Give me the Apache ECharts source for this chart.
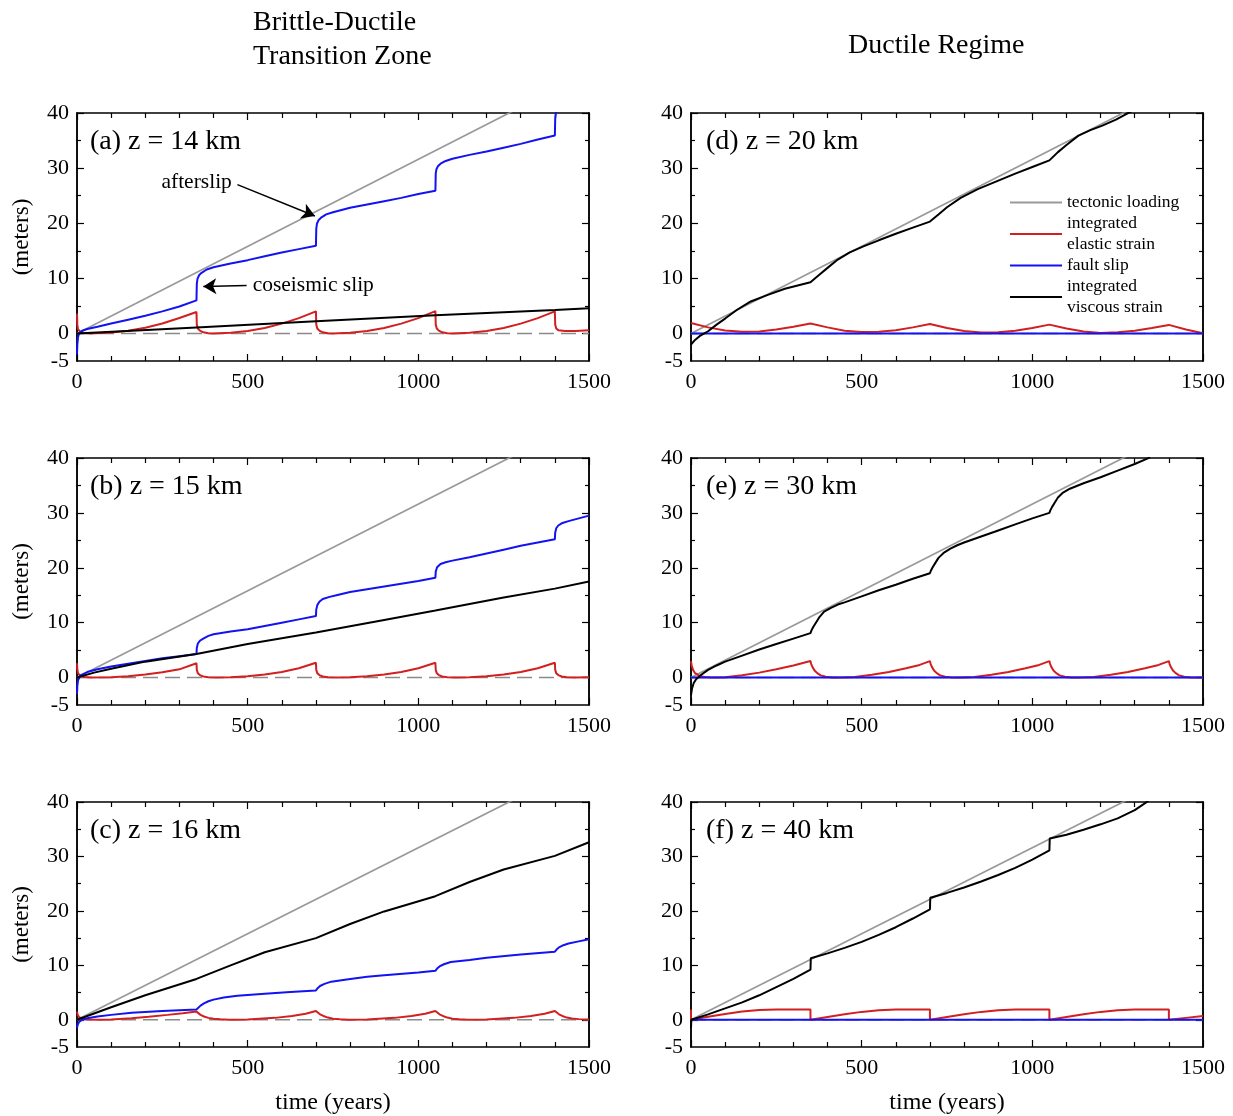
<!DOCTYPE html>
<html>
<head>
<meta charset="utf-8">
<script src="https://cdn.jsdelivr.net/npm/echarts@6/dist/echarts.min.js"></script>
<style>html,body{margin:0;padding:0;background:#fff}#c{width:1233px;height:1116px}</style>
</head>
<body>
<div id="c"></div>
<script>
// ---------- data (time in years, values in meters) ----------
const xTickLabels = [0, 500, 1000, 1500];
const yTickLabels = [-5, 0, 10, 20, 30, 40];
const panelLabels = ['(a) z = 14 km', '(b) z = 15 km', '(c) z = 16 km', '(d) z = 20 km', '(e) z = 30 km', '(f) z = 40 km'];
const columnTitles = ['Brittle-Ductile\nTransition Zone', 'Ductile Regime'];
const seriesNames = ['tectonic loading', 'integrated\nelastic strain', 'fault slip', 'integrated\nviscous strain'];

const loading = [[0, 0], [1500, 47.4]];
const zeroLine = [[0, 0], [1500, 0]];

// (a) z = 14 km
const a_elastic = [[0,3.6],[1,1.5],[3,0.8],[8,0.4],[20,0.1],[40,0],[100,0.15],[150,0.5],[200,1.05],[250,1.8],[300,2.8],[350,3.9],[351,1.6],[354,0.9],[360,0.5],[370,0.2],[385,0.05],[400,0],[450,0.11],[500,0.44],[550,1.0],[600,1.78],[650,2.78],[700,4.0],[701,1.6],[704,0.9],[710,0.5],[720,0.2],[735,0.05],[750,0],[800,0.11],[850,0.44],[900,1.0],[950,1.78],[1000,2.78],[1050,4.05],[1051,1.6],[1054,0.9],[1060,0.5],[1070,0.2],[1085,0.05],[1100,0],[1150,0.11],[1200,0.44],[1250,1.0],[1300,1.78],[1350,2.78],[1400,4.0],[1401,1.6],[1404,0.9],[1410,0.6],[1430,0.45],[1460,0.45],[1500,0.6]];
const a_fault = [[0,-3.8],[1,-2],[3,-0.7],[6,0],[15,0.5],[30,0.8],[60,1.2],[100,1.8],[150,2.5],[200,3.2],[250,4.0],[300,4.9],[350,6.0],[351,9.0],[353,9.9],[358,10.6],[365,11.0],[380,11.6],[400,12.0],[450,12.7],[500,13.3],[550,14.0],[600,14.7],[650,15.3],[700,15.9],[701,19.0],[703,19.9],[708,20.6],[715,21.0],[730,21.6],[750,22.0],[800,22.8],[850,23.4],[900,24.0],[950,24.6],[1000,25.3],[1050,25.9],[1051,29.0],[1053,29.8],[1058,30.4],[1065,30.8],[1080,31.3],[1100,31.7],[1150,32.4],[1200,33.0],[1250,33.7],[1300,34.4],[1350,35.2],[1400,35.9],[1401,39.0],[1403,40.0],[1408,40.8],[1420,41.5]];
const a_viscous = [[0,0],[350,1.1],[700,2.2],[1050,3.3],[1400,4.25],[1500,4.55]];

// (b) z = 15 km
const b_elastic = [[0,2.6],[1,1.5],[3,0.8],[8,0.4],[20,0.1],[40,0],[100,0.05],[150,0.25],[200,0.55],[250,0.95],[300,1.5],[350,2.6],[351,1.4],[354,0.8],[360,0.45],[370,0.2],[385,0.07],[410,0],[450,0.05],[500,0.25],[550,0.55],[600,1.0],[650,1.7],[700,2.7],[701,1.4],[704,0.8],[710,0.45],[720,0.2],[735,0.07],[760,0],[800,0.05],[850,0.25],[900,0.55],[950,1.0],[1000,1.7],[1050,2.7],[1051,1.4],[1054,0.8],[1060,0.45],[1070,0.2],[1085,0.07],[1110,0],[1150,0.05],[1200,0.25],[1250,0.55],[1300,1.0],[1350,1.7],[1400,2.7],[1401,1.4],[1404,0.8],[1410,0.45],[1420,0.2],[1435,0.07],[1460,0.02],[1500,0.05]];
const b_fault = [[0,-3],[1,-1.5],[3,-0.5],[10,0.4],[30,1.0],[60,1.5],[100,2.0],[150,2.5],[200,3.0],[250,3.5],[300,3.9],[350,4.3],[351,5.4],[354,6.2],[360,6.7],[370,7.1],[385,7.6],[400,7.9],[450,8.4],[500,8.8],[550,9.4],[600,10.0],[650,10.6],[700,11.2],[701,12.4],[704,13.2],[710,13.8],[720,14.3],[740,14.7],[760,15.0],[800,15.6],[850,16.1],[900,16.6],[950,17.1],[1000,17.6],[1050,18.2],[1051,19.3],[1055,20.1],[1065,20.7],[1080,21.0],[1100,21.3],[1150,21.9],[1200,22.6],[1250,23.3],[1300,24.0],[1350,24.6],[1400,25.2],[1401,26.4],[1404,27.2],[1410,27.7],[1420,28.1],[1440,28.5],[1470,29.0],[1500,29.5]];
const b_viscous = [[0,0],[50,0.9],[100,1.6],[200,2.9],[350,4.3],[500,6.1],[700,8.2],[900,10.5],[1050,12.2],[1250,14.6],[1400,16.2],[1500,17.5]];

// (c) z = 16 km
const c_elastic = [[0,1.5],[2,0.9],[6,0.5],[15,0.2],[30,0.05],[60,0],[100,0.05],[160,0.3],[210,0.55],[265,0.9],[310,1.2],[350,1.5],[355,1.2],[362,0.9],[372,0.6],[385,0.35],[400,0.2],[420,0.08],[445,0],[500,0.05],[580,0.35],[630,0.7],[670,1.1],[700,1.6],[705,1.3],[712,1.0],[722,0.7],[735,0.4],[750,0.2],[770,0.08],[795,0],[850,0.05],[930,0.35],[980,0.7],[1020,1.1],[1050,1.6],[1055,1.3],[1062,1.0],[1072,0.7],[1085,0.4],[1100,0.2],[1120,0.08],[1145,0],[1200,0.05],[1280,0.35],[1330,0.7],[1370,1.1],[1400,1.6],[1405,1.3],[1412,1.0],[1422,0.7],[1435,0.4],[1450,0.25],[1470,0.12],[1500,0.05]];
const c_fault = [[0,-1.5],[2,-0.9],[6,-0.4],[15,0],[30,0.3],[60,0.6],[100,0.9],[160,1.3],[250,1.6],[350,1.9],[355,2.2],[362,2.6],[372,3.0],[385,3.4],[400,3.7],[430,4.1],[470,4.4],[550,4.8],[625,5.1],[700,5.4],[705,5.8],[712,6.2],[725,6.6],[745,7.0],[790,7.4],[850,7.9],[900,8.2],[1000,8.7],[1050,9.0],[1055,9.4],[1062,9.8],[1075,10.2],[1095,10.6],[1150,11.0],[1200,11.4],[1300,12.0],[1400,12.5],[1405,12.9],[1412,13.3],[1425,13.7],[1440,14.0],[1470,14.4],[1500,14.8]];
const c_viscous = [[0,0],[100,2.3],[200,4.5],[350,7.5],[450,10.0],[550,12.4],[700,15.0],[800,17.6],[900,19.9],[1050,22.7],[1150,25.3],[1250,27.6],[1400,30.1],[1500,32.6]];

// (d) z = 20 km
const d_elastic = [[0,1.9],[50,1.1],[100,0.55],[150,0.3],[200,0.35],[250,0.7],[300,1.2],[350,1.8],[400,1.1],[450,0.5],[500,0.25],[550,0.3],[600,0.6],[650,1.1],[700,1.7],[750,1.0],[800,0.45],[850,0.15],[900,0.2],[950,0.5],[1000,1.0],[1050,1.6],[1100,0.9],[1150,0.35],[1200,0.1],[1250,0.2],[1300,0.5],[1350,1.0],[1400,1.55],[1450,0.7],[1500,0.05]];
const d_fault = [[0,0],[1500,0]];
const d_viscous = [[0,-2.0],[10,-1.3],[25,-0.5],[50,0.4],[75,1.6],[100,2.7],[135,4.3],[175,5.8],[225,7.0],[275,8.1],[350,9.3],[375,10.6],[400,11.9],[430,13.4],[465,14.7],[505,15.8],[550,16.9],[600,18.1],[650,19.2],[700,20.3],[725,21.6],[750,22.9],[790,24.6],[840,26.2],[895,27.6],[950,29.0],[1000,30.2],[1050,31.4],[1075,32.9],[1100,34.2],[1135,35.9],[1170,36.9],[1205,37.7],[1245,38.8],[1290,40.3]];

// (e) z = 30 km
const e_elastic = [[0,3.0],[2,2.2],[6,1.4],[12,0.8],[25,0.3],[40,0.1],[60,0],[100,0.05],[150,0.4],[200,0.9],[250,1.5],[300,2.2],[350,3.0],[352,2.5],[356,1.9],[362,1.3],[370,0.8],[380,0.4],[395,0.15],[415,0.03],[440,0],[480,0.1],[530,0.5],[580,1.0],[630,1.7],[670,2.3],[700,3.0],[702,2.5],[706,1.9],[712,1.3],[720,0.8],[730,0.4],[745,0.15],[765,0.03],[790,0],[830,0.1],[880,0.5],[930,1.0],[980,1.7],[1020,2.3],[1050,3.0],[1052,2.5],[1056,1.9],[1062,1.3],[1070,0.8],[1080,0.4],[1095,0.15],[1115,0.03],[1140,0],[1180,0.1],[1230,0.5],[1280,1.0],[1330,1.7],[1370,2.3],[1400,3.0],[1402,2.5],[1406,1.9],[1412,1.3],[1420,0.8],[1430,0.4],[1445,0.15],[1465,0.03],[1500,0]];
const e_fault = [[0,0],[1500,0]];
const e_viscous = [[0,-3.2],[3,-2.0],[8,-1.0],[15,-0.3],[30,0.5],[50,1.4],[75,2.2],[100,2.9],[150,4.0],[200,5.1],[250,6.1],[300,7.1],[350,8.1],[353,8.6],[358,9.2],[365,9.9],[375,10.9],[390,12.0],[410,12.7],[430,13.3],[450,13.7],[500,14.8],[550,15.9],[600,16.9],[650,18.0],[700,19.0],[703,19.5],[708,20.1],[715,20.8],[725,21.8],[740,22.7],[760,23.5],[780,24.1],[800,24.6],[850,25.7],[900,26.8],[950,27.9],[1000,29.0],[1050,30.0],[1053,30.5],[1058,31.1],[1065,31.8],[1075,32.8],[1090,33.7],[1110,34.4],[1130,34.9],[1150,35.4],[1200,36.5],[1250,37.7],[1300,38.9],[1345,40.1]];

// (f) z = 40 km
const f_elastic = [[0,1.9],[0,0],[50,0.55],[100,1.05],[150,1.5],[200,1.8],[250,1.9],[350,1.9],[350,0],[400,0.5],[450,1.0],[500,1.45],[550,1.75],[600,1.88],[700,1.9],[700,0],[750,0.5],[800,1.0],[850,1.45],[900,1.75],[950,1.88],[1050,1.9],[1050,0],[1100,0.5],[1150,1.0],[1200,1.45],[1250,1.75],[1300,1.88],[1400,1.9],[1400,0],[1450,0.35],[1500,0.7]];
const f_fault = [[0,0],[1500,0]];
const f_viscous = [[0,-1.5],[1,0],[50,1.0],[100,2.1],[150,3.2],[200,4.5],[250,6.0],[300,7.5],[350,9.2],[351,11.3],[400,12.2],[450,13.2],[500,14.3],[550,15.6],[600,17.0],[650,18.6],[700,20.3],[701,22.4],[750,23.3],[800,24.3],[850,25.4],[900,26.6],[950,27.9],[1000,29.4],[1050,31.1],[1051,33.3],[1100,34.0],[1150,34.9],[1200,35.9],[1250,37.0],[1300,38.5],[1340,40.2]];

// annotations in panel (a): [text, arrow start, arrow tip] in data units
const annotations = [
  ['afterslip', [470, 27.0], [697, 21.3]],
  ['coseismic slip', [497, 8.7], [370, 8.5]]
];

// ---------- chart ----------
const FONT = 'Liberation Serif';
const panelData = [
  [a_elastic, a_fault, a_viscous],
  [b_elastic, b_fault, b_viscous],
  [c_elastic, c_fault, c_viscous],
  [d_elastic, d_fault, d_viscous],
  [e_elastic, e_fault, e_viscous],
  [f_elastic, f_fault, f_viscous]
];
const colLeft = [77, 691];
const rowTop = [113, 458, 802];
const rowHeight = [248, 247, 248];
const colors = ['#999999', '#d21f1f', '#1212f2', '#000000'];

const grids = [], xAxes = [], yAxes = [], series = [], graphics = [];
panelData.forEach((pd, i) => {
  const col = Math.floor(i / 3), row = i % 3;
  grids.push({left: colLeft[col], top: rowTop[row], width: 512, height: rowHeight[row]});
  const xBase = {
    gridIndex: i, type: 'value', min: 0, max: 1500, interval: 500,
    axisLine: {show: true, onZero: false, lineStyle: {color: '#000', width: 1.5}},
    axisTick: {show: true, inside: true, length: 7, lineStyle: {color: '#000', width: 1.2}},
    minorTick: {show: true, splitNumber: 5, length: 5, lineStyle: {color: '#000', width: 1.2}},
    splitLine: {show: false}, minorSplitLine: {show: false}
  };
  xAxes.push(Object.assign({}, xBase, {
    position: 'bottom',
    axisLabel: {show: true, fontFamily: FONT, fontSize: 22, color: '#000', margin: 10,
      formatter: v => xTickLabels.includes(v) ? String(v) : ''},
    name: row === 2 ? 'time (years)' : '', nameLocation: 'middle', nameGap: 44,
    nameTextStyle: {fontFamily: FONT, fontSize: 24, color: '#000'}
  }));
  xAxes.push(Object.assign({}, xBase, {position: 'top', axisLabel: {show: false}}));
  const yBase = {
    gridIndex: i, type: 'value', min: -5, max: 40, interval: 5,
    axisLine: {show: true, onZero: false, lineStyle: {color: '#000', width: 1.5}},
    splitLine: {show: false}
  };
  const longTicks = {show: true, inside: true, length: 7, customValues: [0, 10, 20, 30, 40], lineStyle: {color: '#000', width: 1.2}};
  const shortTicks = {show: true, inside: true, length: 4, customValues: [5, 15, 25, 35], lineStyle: {color: '#000', width: 1.2}};
  yAxes.push(Object.assign({}, yBase, {
    position: 'left', axisTick: longTicks,
    axisLabel: {show: true, customValues: yTickLabels, fontFamily: FONT, fontSize: 22, color: '#000', margin: 8},
    name: col === 0 ? '(meters)' : '', nameLocation: 'middle', nameGap: 44, nameRotate: 90,
    nameTextStyle: {fontFamily: FONT, fontSize: 23, color: '#000'}
  }));
  yAxes.push(Object.assign({}, yBase, {position: 'left', axisTick: shortTicks, axisLabel: {show: false}}));
  yAxes.push(Object.assign({}, yBase, {position: 'right', axisTick: longTicks, axisLabel: {show: false}}));
  yAxes.push(Object.assign({}, yBase, {position: 'right', axisTick: shortTicks, axisLabel: {show: false}}));

  const common = {type: 'line', xAxisIndex: i * 2, yAxisIndex: i * 4, symbol: 'none', showSymbol: false, animation: false, silent: true};
  series.push(Object.assign({}, common, {name: 'zero', data: zeroLine, z: 1,
    lineStyle: {color: '#8a8a8a', width: 1.4, type: [15, 7]}}));
  series.push(Object.assign({}, common, {name: seriesNames[0], data: loading, z: 2,
    lineStyle: {color: colors[0], width: 1.7}, itemStyle: {color: colors[0]}}));
  series.push(Object.assign({}, common, {name: seriesNames[1], data: pd[0], z: 3,
    lineStyle: {color: colors[1], width: 2}, itemStyle: {color: colors[1]}}));
  const faultSeries = Object.assign({}, common, {name: seriesNames[2], data: pd[1], z: 4,
    lineStyle: {color: colors[2], width: 2}, itemStyle: {color: colors[2]}});
  if (i === 0) {
    faultSeries.markLine = {
      silent: true, animation: false, symbol: ['none', 'arrow'], symbolSize: [12, 13],
      lineStyle: {color: '#000', width: 1.5, type: 'solid'},
      label: {show: true, position: 'start', distance: 6, fontFamily: FONT, fontSize: 21.5, color: '#000',
        formatter: p => p.name},
      data: annotations.map(a => [{name: a[0], coord: a[1]}, {coord: a[2]}])
    };
  }
  series.push(faultSeries);
  series.push(Object.assign({}, common, {name: seriesNames[3], data: pd[2], z: 5,
    lineStyle: {color: colors[3], width: 2}, itemStyle: {color: colors[3]}}));

  graphics.push({type: 'text', left: col === 0 ? 90 : 706, top: rowTop[row] + 15,
    style: {text: panelLabels[i], font: '28px "Liberation Serif"', fill: '#000'}});
});

graphics.push({type: 'text', left: 253, top: 6,
  style: {text: columnTitles[0], font: '28px "Liberation Serif"', fill: '#000', lineHeight: 34}});
graphics.push({type: 'text', left: 848, top: 32,
  style: {text: columnTitles[1], font: '28px "Liberation Serif"', fill: '#000'}});

const option = {
  backgroundColor: '#fff',
  animation: false,
  grid: grids, xAxis: xAxes, yAxis: yAxes, series: series, graphic: graphics,
  legend: {
    data: seriesNames, orient: 'vertical', left: 1010, top: 192, padding: 0,
    icon: 'rect', itemWidth: 52, itemHeight: 2.2, itemGap: 0, selectedMode: false,
    textStyle: {fontFamily: FONT, fontSize: 17.5, color: '#000', lineHeight: 21}
  }
};
const chart = echarts.init(document.getElementById('c'), null, {renderer: 'canvas'});
chart.setOption(option);
</script>
</body>
</html>
